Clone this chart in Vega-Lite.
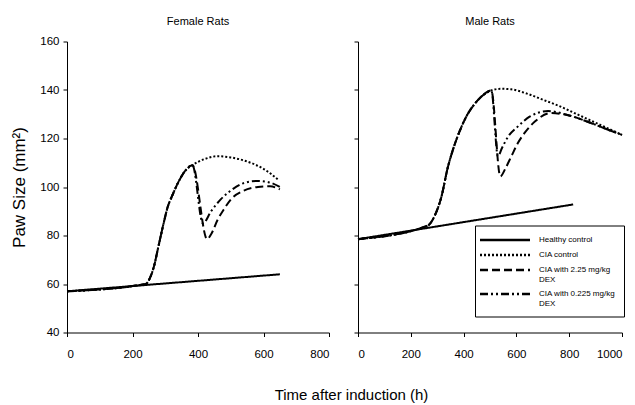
{
  "$schema": "https://vega.github.io/schema/vega-lite/v6.json",
  "background": "white",
  "padding": {"left": 10, "top": 15.5, "right": 5, "bottom": 5},
  "spacing": 29,
  "bounds": "flush",
  "config": {
    "view": {"stroke": null},
    "font": "Liberation Sans",
    "axis": {"grid": false, "domainColor": "black", "tickColor": "black", "labelColor": "black", "labelFontSize": 11.5, "labelFont": "Liberation Sans", "tickSize": 4, "labelPadding": 4, "titleColor": "black", "titleFontWeight": "normal"},
    "axisX": {"labelPadding": 12},
    "title": {"fontSize": 11, "font": "Liberation Sans", "fontWeight": "normal", "color": "black"}
  },
  "datasets": {
    "female": [
      {"h": 0, "v": 57, "s": "Healthy control"},
      {"h": 650, "v": 64, "s": "Healthy control"},
      {"h": 0, "v": 57, "s": "CIA control"},
      {"h": 240, "v": 60, "s": "CIA control"},
      {"h": 255, "v": 63, "s": "CIA control"},
      {"h": 265, "v": 67, "s": "CIA control"},
      {"h": 280, "v": 76, "s": "CIA control"},
      {"h": 295, "v": 85, "s": "CIA control"},
      {"h": 308, "v": 92, "s": "CIA control"},
      {"h": 320, "v": 96, "s": "CIA control"},
      {"h": 340, "v": 102, "s": "CIA control"},
      {"h": 360, "v": 106.5, "s": "CIA control"},
      {"h": 383, "v": 109, "s": "CIA control"},
      {"h": 420, "v": 111.5, "s": "CIA control"},
      {"h": 461, "v": 112.7, "s": "CIA control"},
      {"h": 500, "v": 112.2, "s": "CIA control"},
      {"h": 550, "v": 110.5, "s": "CIA control"},
      {"h": 600, "v": 107.5, "s": "CIA control"},
      {"h": 645, "v": 103, "s": "CIA control"},
      {"h": 0, "v": 57, "s": "CIA with 2.25 mg/kg DEX"},
      {"h": 240, "v": 60, "s": "CIA with 2.25 mg/kg DEX"},
      {"h": 255, "v": 63, "s": "CIA with 2.25 mg/kg DEX"},
      {"h": 265, "v": 67, "s": "CIA with 2.25 mg/kg DEX"},
      {"h": 280, "v": 76, "s": "CIA with 2.25 mg/kg DEX"},
      {"h": 295, "v": 85, "s": "CIA with 2.25 mg/kg DEX"},
      {"h": 308, "v": 92, "s": "CIA with 2.25 mg/kg DEX"},
      {"h": 320, "v": 96, "s": "CIA with 2.25 mg/kg DEX"},
      {"h": 340, "v": 102, "s": "CIA with 2.25 mg/kg DEX"},
      {"h": 360, "v": 106.5, "s": "CIA with 2.25 mg/kg DEX"},
      {"h": 383, "v": 109, "s": "CIA with 2.25 mg/kg DEX"},
      {"h": 428, "v": 78.5, "s": "CIA with 2.25 mg/kg DEX"},
      {"h": 440, "v": 80.5, "s": "CIA with 2.25 mg/kg DEX"},
      {"h": 460, "v": 86.5, "s": "CIA with 2.25 mg/kg DEX"},
      {"h": 480, "v": 91, "s": "CIA with 2.25 mg/kg DEX"},
      {"h": 501, "v": 95, "s": "CIA with 2.25 mg/kg DEX"},
      {"h": 540, "v": 98.5, "s": "CIA with 2.25 mg/kg DEX"},
      {"h": 583, "v": 100, "s": "CIA with 2.25 mg/kg DEX"},
      {"h": 620, "v": 100.3, "s": "CIA with 2.25 mg/kg DEX"},
      {"h": 650, "v": 99, "s": "CIA with 2.25 mg/kg DEX"},
      {"h": 0, "v": 57, "s": "CIA with 0.225 mg/kg DEX"},
      {"h": 240, "v": 60, "s": "CIA with 0.225 mg/kg DEX"},
      {"h": 255, "v": 63, "s": "CIA with 0.225 mg/kg DEX"},
      {"h": 265, "v": 67, "s": "CIA with 0.225 mg/kg DEX"},
      {"h": 280, "v": 76, "s": "CIA with 0.225 mg/kg DEX"},
      {"h": 295, "v": 85, "s": "CIA with 0.225 mg/kg DEX"},
      {"h": 308, "v": 92, "s": "CIA with 0.225 mg/kg DEX"},
      {"h": 320, "v": 96, "s": "CIA with 0.225 mg/kg DEX"},
      {"h": 340, "v": 102, "s": "CIA with 0.225 mg/kg DEX"},
      {"h": 360, "v": 106.5, "s": "CIA with 0.225 mg/kg DEX"},
      {"h": 383, "v": 109, "s": "CIA with 0.225 mg/kg DEX"},
      {"h": 415, "v": 85, "s": "CIA with 0.225 mg/kg DEX"},
      {"h": 440, "v": 90, "s": "CIA with 0.225 mg/kg DEX"},
      {"h": 470, "v": 95, "s": "CIA with 0.225 mg/kg DEX"},
      {"h": 500, "v": 98.5, "s": "CIA with 0.225 mg/kg DEX"},
      {"h": 537, "v": 101.5, "s": "CIA with 0.225 mg/kg DEX"},
      {"h": 580, "v": 102.5, "s": "CIA with 0.225 mg/kg DEX"},
      {"h": 615, "v": 102, "s": "CIA with 0.225 mg/kg DEX"},
      {"h": 650, "v": 100, "s": "CIA with 0.225 mg/kg DEX"}
    ],
    "male": [
      {"h": 0, "v": 78.5, "s": "Healthy control"},
      {"h": 815, "v": 92.8, "s": "Healthy control"},
      {"h": 0, "v": 78.5, "s": "CIA control"},
      {"h": 263, "v": 84, "s": "CIA control"},
      {"h": 290, "v": 88, "s": "CIA control"},
      {"h": 316, "v": 96, "s": "CIA control"},
      {"h": 340, "v": 108, "s": "CIA control"},
      {"h": 360, "v": 115.5, "s": "CIA control"},
      {"h": 385, "v": 123, "s": "CIA control"},
      {"h": 410, "v": 129, "s": "CIA control"},
      {"h": 440, "v": 134, "s": "CIA control"},
      {"h": 470, "v": 137.5, "s": "CIA control"},
      {"h": 505, "v": 139.8, "s": "CIA control"},
      {"h": 540, "v": 140.5, "s": "CIA control"},
      {"h": 580, "v": 140.3, "s": "CIA control"},
      {"h": 640, "v": 138.5, "s": "CIA control"},
      {"h": 700, "v": 136, "s": "CIA control"},
      {"h": 760, "v": 133.5, "s": "CIA control"},
      {"h": 820, "v": 130.5, "s": "CIA control"},
      {"h": 880, "v": 127.5, "s": "CIA control"},
      {"h": 940, "v": 124.5, "s": "CIA control"},
      {"h": 1000, "v": 121.5, "s": "CIA control"},
      {"h": 0, "v": 78.5, "s": "CIA with 2.25 mg/kg DEX"},
      {"h": 263, "v": 84, "s": "CIA with 2.25 mg/kg DEX"},
      {"h": 290, "v": 88, "s": "CIA with 2.25 mg/kg DEX"},
      {"h": 316, "v": 96, "s": "CIA with 2.25 mg/kg DEX"},
      {"h": 340, "v": 108, "s": "CIA with 2.25 mg/kg DEX"},
      {"h": 360, "v": 115.5, "s": "CIA with 2.25 mg/kg DEX"},
      {"h": 385, "v": 123, "s": "CIA with 2.25 mg/kg DEX"},
      {"h": 410, "v": 129, "s": "CIA with 2.25 mg/kg DEX"},
      {"h": 440, "v": 134, "s": "CIA with 2.25 mg/kg DEX"},
      {"h": 470, "v": 137.5, "s": "CIA with 2.25 mg/kg DEX"},
      {"h": 505, "v": 139.8, "s": "CIA with 2.25 mg/kg DEX"},
      {"h": 539, "v": 104.4, "s": "CIA with 2.25 mg/kg DEX"},
      {"h": 560, "v": 108, "s": "CIA with 2.25 mg/kg DEX"},
      {"h": 581, "v": 112.7, "s": "CIA with 2.25 mg/kg DEX"},
      {"h": 605, "v": 118, "s": "CIA with 2.25 mg/kg DEX"},
      {"h": 631, "v": 122.3, "s": "CIA with 2.25 mg/kg DEX"},
      {"h": 670, "v": 127, "s": "CIA with 2.25 mg/kg DEX"},
      {"h": 732, "v": 130.5, "s": "CIA with 2.25 mg/kg DEX"},
      {"h": 800, "v": 129.5, "s": "CIA with 2.25 mg/kg DEX"},
      {"h": 880, "v": 126.5, "s": "CIA with 2.25 mg/kg DEX"},
      {"h": 950, "v": 123.5, "s": "CIA with 2.25 mg/kg DEX"},
      {"h": 1000, "v": 121.5, "s": "CIA with 2.25 mg/kg DEX"},
      {"h": 0, "v": 78.5, "s": "CIA with 0.225 mg/kg DEX"},
      {"h": 263, "v": 84, "s": "CIA with 0.225 mg/kg DEX"},
      {"h": 290, "v": 88, "s": "CIA with 0.225 mg/kg DEX"},
      {"h": 316, "v": 96, "s": "CIA with 0.225 mg/kg DEX"},
      {"h": 340, "v": 108, "s": "CIA with 0.225 mg/kg DEX"},
      {"h": 360, "v": 115.5, "s": "CIA with 0.225 mg/kg DEX"},
      {"h": 385, "v": 123, "s": "CIA with 0.225 mg/kg DEX"},
      {"h": 410, "v": 129, "s": "CIA with 0.225 mg/kg DEX"},
      {"h": 440, "v": 134, "s": "CIA with 0.225 mg/kg DEX"},
      {"h": 470, "v": 137.5, "s": "CIA with 0.225 mg/kg DEX"},
      {"h": 505, "v": 139.8, "s": "CIA with 0.225 mg/kg DEX"},
      {"h": 530, "v": 112.7, "s": "CIA with 0.225 mg/kg DEX"},
      {"h": 545, "v": 116, "s": "CIA with 0.225 mg/kg DEX"},
      {"h": 570, "v": 121, "s": "CIA with 0.225 mg/kg DEX"},
      {"h": 606, "v": 125, "s": "CIA with 0.225 mg/kg DEX"},
      {"h": 650, "v": 129, "s": "CIA with 0.225 mg/kg DEX"},
      {"h": 720, "v": 131.3, "s": "CIA with 0.225 mg/kg DEX"},
      {"h": 800, "v": 129.5, "s": "CIA with 0.225 mg/kg DEX"},
      {"h": 880, "v": 126.5, "s": "CIA with 0.225 mg/kg DEX"},
      {"h": 950, "v": 123.5, "s": "CIA with 0.225 mg/kg DEX"},
      {"h": 1000, "v": 121.5, "s": "CIA with 0.225 mg/kg DEX"}
    ]
  },
  "resolve": {"scale": {"strokeDash": "independent"}, "legend": {"strokeDash": "independent"}},
  "hconcat": [
    {
      "title": {"text": "Female Rats", "offset": 8.5},
      "width": 262,
      "height": 291,
      "data": {"name": "female"},
      "mark": {"type": "line", "interpolate": "monotone", "color": "black", "strokeWidth": 2},
      "encoding": {
        "x": {"field": "h", "type": "quantitative", "scale": {"domain": [0, 800], "nice": false}, "axis": {"values": [0, 200, 400, 600, 800], "format": "d", "title": "Time after induction (h)", "titleFont": "Liberation Sans", "titleFontSize": 15, "titleX": 284, "titleY": 55}},
        "y": {"field": "v", "type": "quantitative", "scale": {"domain": [40, 160], "nice": false, "zero": false}, "axis": {"values": [40, 60, 80, 100, 120, 140, 160], "title": "Paw Size (mm\u00b2)", "titleFont": "Liberation Sans", "titleFontSize": 17, "titlePadding": 11}},
        "detail": {"field": "s"},
        "strokeDash": {"field": "s", "type": "nominal", "legend": null, "scale": {"domain": ["Healthy control", "CIA control", "CIA with 2.25 mg/kg DEX", "CIA with 0.225 mg/kg DEX"], "range": [[1, 0], [2, 2], [8, 4], [8, 3, 2, 3, 2, 3]]}}
      }
    },
    {
      "title": {"text": "Male Rats", "offset": 14.5},
      "width": 264,
      "height": 291,
      "data": {"name": "male"},
      "mark": {"type": "line", "interpolate": "monotone", "color": "black", "strokeWidth": 2},
      "encoding": {
        "x": {"field": "h", "type": "quantitative", "scale": {"domain": [0, 1000], "nice": false}, "axis": {"values": [0, 200, 400, 600, 800, 1000], "format": "d", "title": null}},
        "y": {"field": "v", "type": "quantitative", "scale": {"domain": [40, 160], "nice": false, "zero": false}, "axis": {"values": [40, 60, 80, 100, 120, 140, 160], "labels": false, "title": null}},
        "detail": {"field": "s"},
        "strokeDash": {"field": "s", "type": "nominal", "scale": {"domain": ["Healthy control", "CIA control", "CIA with 2.25 mg/kg DEX", "CIA with 0.225 mg/kg DEX"], "range": [[1, 0], [2, 2], [8, 4], [8, 3, 2, 3, 2, 3]]},
          "legend": {"title": null, "orient": "none", "legendX": 117, "legendY": 184, "strokeColor": "black", "padding": 8, "symbolType": "M-1.9,0H8.1", "symbolSize": 100, "symbolStrokeWidth": 2.5, "symbolStrokeColor": "black", "symbolFillColor": "transparent", "labelFont": "Liberation Sans", "labelFontSize": 8, "labelColor": "black", "labelOffset": 43, "rowPadding": 3, "labelLimit": 200,
            "labelExpr": "datum.label == 'CIA with 2.25 mg/kg DEX' ? ['CIA with 2.25 mg/kg', 'DEX'] : datum.label == 'CIA with 0.225 mg/kg DEX' ? ['CIA with 0.225 mg/kg', 'DEX'] : datum.label"}}
      }
    }
  ]
}
